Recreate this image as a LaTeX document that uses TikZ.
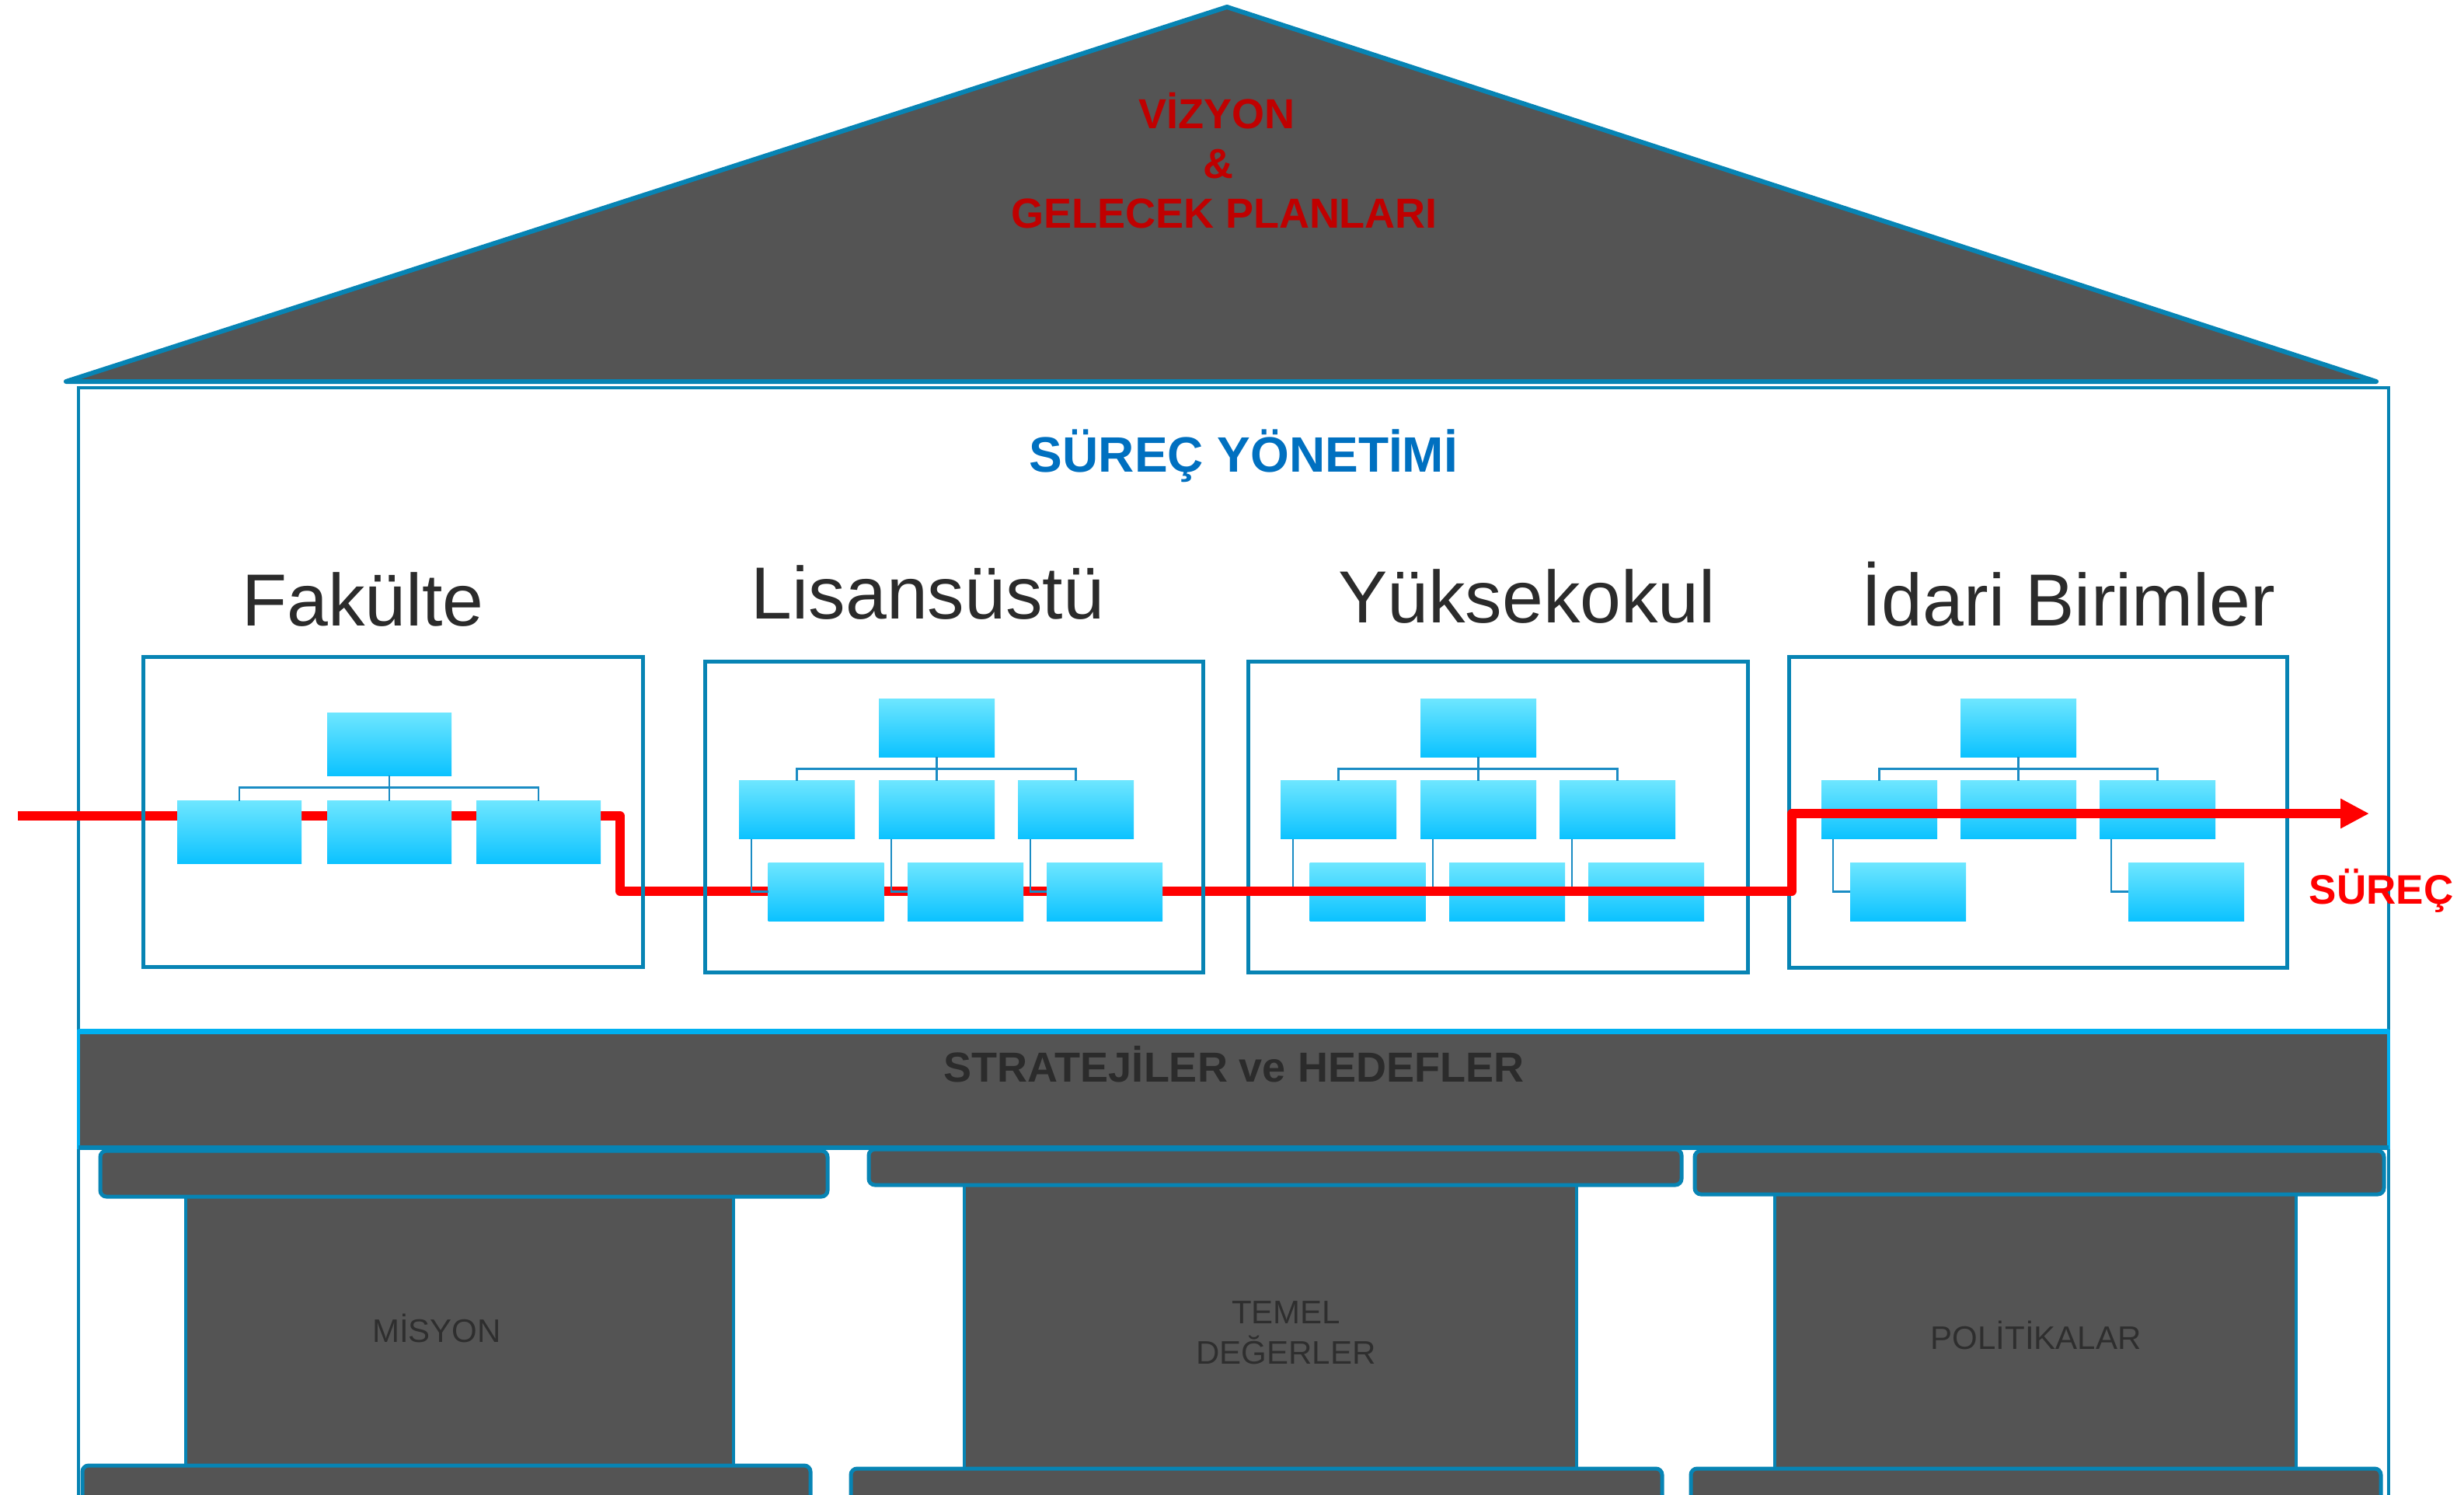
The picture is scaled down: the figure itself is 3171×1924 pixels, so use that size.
\documentclass[tikz,border=0pt]{standalone}
\usepackage{fontspec}
\setmainfont{Liberation Sans}
\usetikzlibrary{arrows.meta}
\definecolor{roofgray}{HTML}{545454}
\definecolor{frameblue}{HTML}{0784B4}
\definecolor{barcyan}{HTML}{00B0F0}
\definecolor{titleblue}{HTML}{0070C0}
\definecolor{darkred}{HTML}{C00000}
\definecolor{headtext}{HTML}{2B2B2B}
\definecolor{pilltext}{HTML}{2E2E2E}
\definecolor{boxtop}{HTML}{6EE6FF}
\definecolor{boxbot}{HTML}{0BC2FF}
\definecolor{connblue}{HTML}{1A8CC4}
\newcommand\fs[1]{\fontsize{#1}{#1}\selectfont}
\tikzset{
 obox/.style={rectangle, inner sep=0, outer sep=0, draw=none, top color=boxtop, bottom color=boxbot},
 obig/.style={obox, minimum width=160, minimum height=81},
 osmall/.style={obox, minimum width=149, minimum height=75},
 conn/.style={draw=connblue, line width=2.2},
 frame/.style={rectangle, draw=frameblue, line width=5, inner sep=0, outer sep=0},
 procline/.style={draw=red, line width=11.5, line join=round},
 lbl/.style={inner sep=0, outer sep=0, anchor=base},
 pcap/.style={rectangle, rounded corners=8, fill=roofgray, draw=frameblue, line width=5, inner sep=0, outer sep=0},
 pshaft/.style={rectangle, fill=roofgray, draw=frameblue, line width=3.5, inner sep=0, outer sep=0},
}
\newcommand\orgB[2]{%
\begin{scope}[shift={(#2,0)}]
\node[osmall] (#1t) at (1205.5,936.5) {};
\node[osmall] (#1a) at (1025.5,1042) {};
\node[osmall] (#1b) at (1205.5,1042) {};
\node[osmall] (#1c) at (1384.5,1042) {};
\node[osmall] (#1d) at (1063,1147.5) {};
\node[osmall] (#1e) at (1242.5,1147.5) {};
\node[osmall] (#1f) at (1421.5,1147.5) {};
\draw[conn] (#1t.south) -- (#1b.north);
\draw[conn] (#1a.north) -- ++(0,-15) -| (#1c.north);
\draw[conn] ([xshift=16pt]#1a.south west) |- (#1d.west);
\draw[conn] ([xshift=16pt]#1b.south west) |- (#1e.west);
\draw[conn] ([xshift=16pt]#1c.south west) |- (#1f.west);
\end{scope}}
\begin{document}
\begin{tikzpicture}[x=1pt,y=-1pt]
\useasboundingbox (0,0) rectangle (3171,1924);
\fill[white] (0,0) rectangle (3171,1924);
% roof
\draw[fill=roofgray, draw=frameblue, line width=6, line join=round] (85,491) -- (1579,9) -- (3058,491) -- cycle;
\node[lbl, text=darkred, font={\fs{54}\bfseries}] (viz) at (1566,165) {VİZYON};
\node[lbl, text=darkred, font={\fs{54}\bfseries}] (amp) at (1568,229) {\&};
\node[lbl, text=darkred, font={\fs{54}\bfseries}] (gel) at (1575.5,293) {GELECEK PLANLARI};
% house body
\node[rectangle, draw=frameblue, fill=white, line width=4, minimum width=2973, minimum height=1500, anchor=north west, inner sep=0, outer sep=0] (house) at (101,499) {};
% process line, first part (behind)
\coordinate (r0) at (23,1050);
\coordinate (r1) at (798,1050);
\coordinate (r2) at (798,1147);
\coordinate (r3) at (1568,1147);
\coordinate (r4) at (2306,1147);
\coordinate (r5) at (2306,1047);
\coordinate (r6) at (3049,1047);
\draw[procline] (r0) -- (r1) -- (r2) -- (r3);
% frames
\node[frame, minimum width=643, minimum height=399] (f1) at (505.5,1044.5) {};
\node[frame, minimum width=641, minimum height=400] (f2) at (1227.5,1051) {};
\node[frame, minimum width=643, minimum height=400] (f3) at (1927.5,1051) {};
\node[frame, minimum width=641, minimum height=400] (f4) at (2622.5,1045) {};
% org 1
\node[obig] (at) at (501,957.5) {};
\node[obig] (aa) at (308,1071) {};
\node[obig] (ab) at (501,1071) {};
\node[obig] (ac) at (693,1071) {};
\draw[conn] (at.south) -- (ab.north);
\draw[conn] (aa.north) -- ++(0,-17) -| (ac.north);
% org 2 and 3
\orgB{b}{0}
\orgB{c}{697}
% org 4
\node[osmall] (dt) at (2597.5,936.5) {};
\node[osmall] (da) at (2418.5,1042) {};
\node[osmall] (db) at (2597.5,1042) {};
\node[osmall] (dc) at (2776.5,1042) {};
\node[osmall] (dd) at (2455.5,1147.5) {};
\node[osmall] (de) at (2813.5,1147.5) {};
\draw[conn] (dt.south) -- (db.north);
\draw[conn] (da.north) -- ++(0,-15) -| (dc.north);
\draw[conn] ([xshift=15pt]da.south west) |- (dd.west);
\draw[conn] ([xshift=15pt]dc.south west) |- (de.west);
% process line, second part (on top)
\draw[procline, -{Triangle[length=37pt,width=36pt]}] (r3) -- (r4) -- (r5) -- (r6);
\node[lbl, text=red, font={\fs{53}\bfseries}] (sur) at (3064.5,1163) {SÜREÇ};
% titles
\node[lbl, text=titleblue, font={\fs{64}\bfseries}] (sy) at (1600.5,607) {SÜREÇ YÖNETİMİ};
\node[lbl, text=headtext, font=\fs{95}] (h1) at (467,805) {Fakülte};
\node[lbl, text=headtext, font=\fs{95}] (h2) at (1194,796) {Lisansüstü};
\node[lbl, text=headtext, font=\fs{95}] (h3) at (1965,801) {Yüksekokul};
\node[lbl, text=headtext, font=\fs{95}] (h4) at (2662,805) {İdari Birimler};
% strategies bar
\node[rectangle, fill=roofgray, draw=barcyan, line width=4, minimum width=2973, minimum height=150, anchor=north west, inner sep=0, outer sep=0] (bar) at (101,1327) {};
\draw[barcyan, line width=7] (bar.north west) -- (bar.north east);
\draw[frameblue, line width=6] (bar.south west) -- (bar.south east);
\node[lbl, text=headtext, font={\fs{54}\bfseries}] (st) at (1588,1392) {STRATEJİLER ve HEDEFLER};
% pillars: shafts
\node[pshaft, minimum width=705, minimum height=346] (s1) at (591.5,1713) {};
\node[pshaft, minimum width=788, minimum height=365] (s2) at (1635,1707.5) {};
\node[pshaft, minimum width=671, minimum height=353] (s3) at (2619.5,1713.5) {};
% capitals
\node[pcap, minimum width=936, minimum height=59] (c1) at (597,1510.5) {};
\node[pcap, minimum width=1046, minimum height=46] (c2) at (1641,1502) {};
\node[pcap, minimum width=887, minimum height=56] (c3) at (2624.5,1509) {};
% bases
\node[pcap, minimum width=937, minimum height=104] (b1) at (574.5,1938) {};
\node[pcap, minimum width=1044, minimum height=100] (b2) at (1617,1940) {};
\node[pcap, minimum width=888, minimum height=100] (b3) at (2620,1940) {};
% pillar texts
\node[lbl, text=pilltext, font=\fs{42}] (mis) at (562,1727) {MİSYON};
\node[lbl, text=pilltext, font=\fs{42}] (tem) at (1655,1703) {TEMEL};
\node[lbl, text=pilltext, font=\fs{42}] (deg) at (1655,1755) {DEĞERLER};
\node[lbl, text=pilltext, font=\fs{42}] (pol) at (2620,1736) {POLİTİKALAR};
\end{tikzpicture}
\end{document}
